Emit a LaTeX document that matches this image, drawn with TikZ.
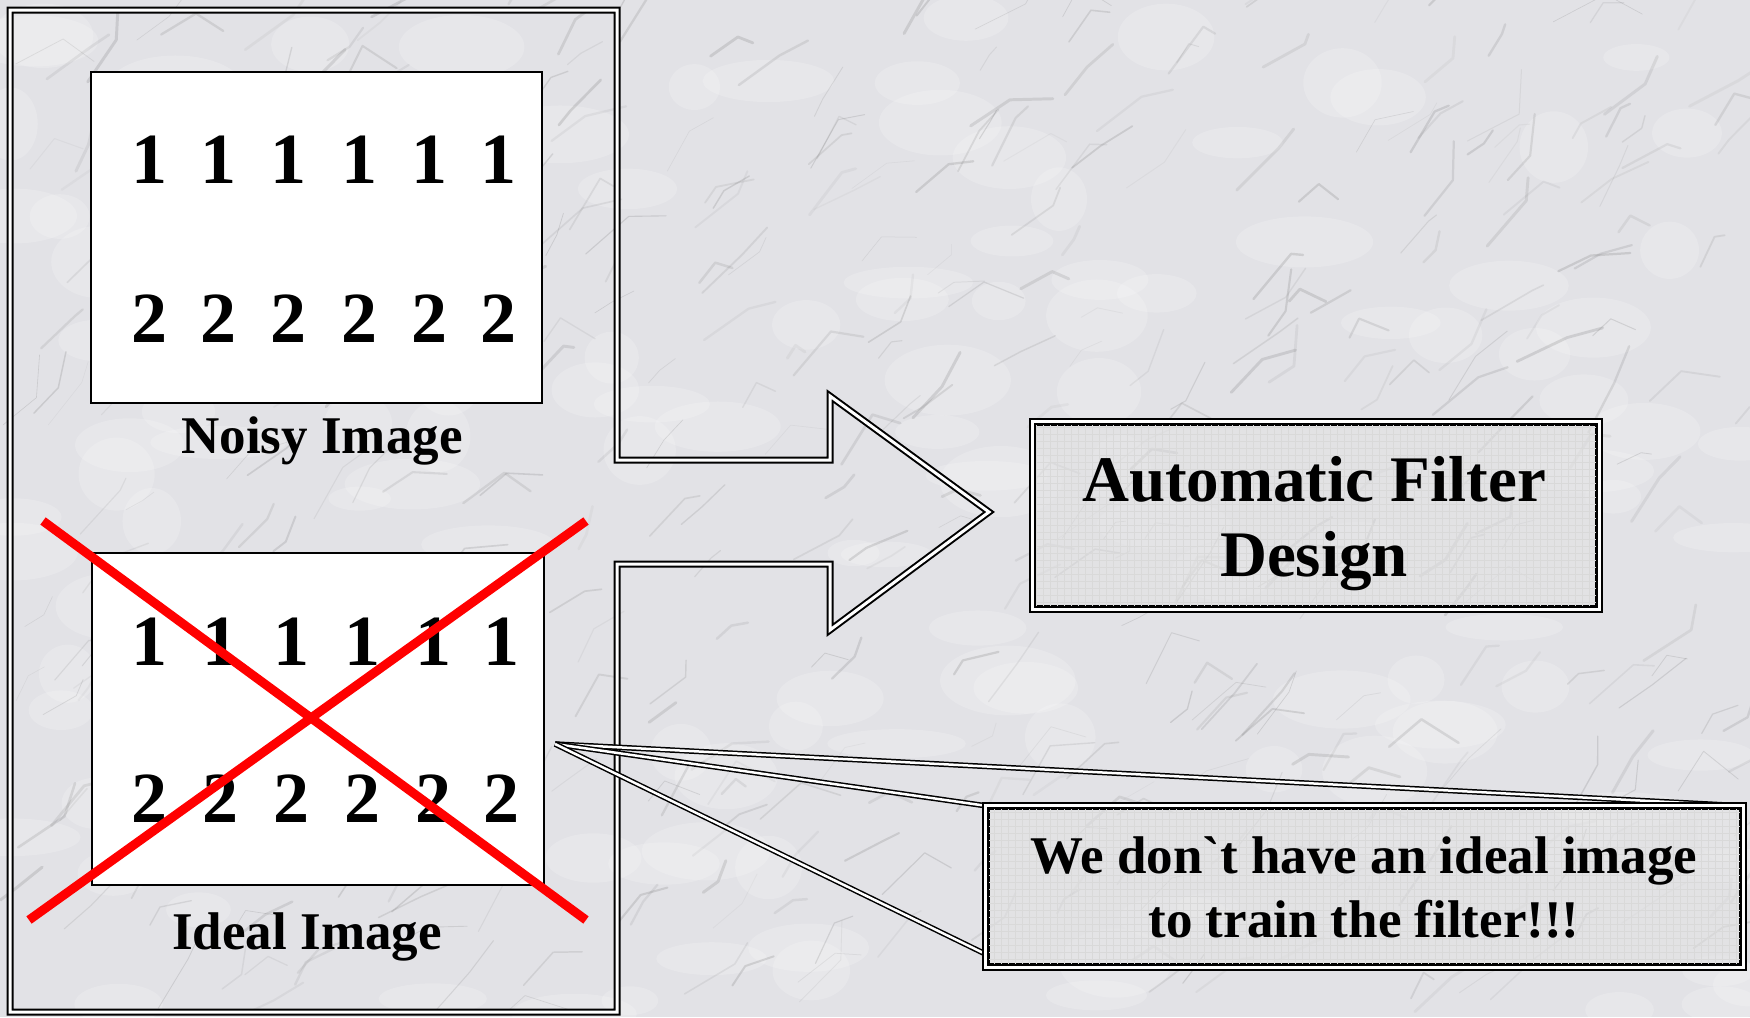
\documentclass[tikz,border=0pt]{standalone}
\usepackage{fontspec}
\setmainfont{Liberation Serif}
\definecolor{marblebase}{HTML}{E2E2E6}
\begin{document}
\begin{tikzpicture}[x=1pt,y=-1pt,
  dbl/.style={draw=black, double=white, line width=2pt, double distance=3pt},
  dblthin/.style={draw=black, double=white, line width=1.5pt, double distance=2.5pt},
  imgbox/.style={draw=black, fill=white, line width=1.5pt, inner sep=0pt, anchor=north west},
  lbl/.style={font=\fontsize{53}{64}\selectfont\bfseries, inner sep=0pt},
  digit/.style={font=\fontsize{72}{80}\selectfont\bfseries, inner sep=0pt, anchor=base},
  cross/.style={draw=red, line width=9pt},
  panel/.style={dbl, fill=gray!22, fill opacity=0.5, inner sep=0pt},
  gridline/.style={draw=gray!30, line width=0.3pt},
  ]
\useasboundingbox (0,0) rectangle (1750,1017);
% marble background
\fill[marblebase] (0,0) rectangle (1750,1017);
\pgfmathsetseed{42}
\foreach \i in {1,...,140}{
  \pgfmathsetmacro{\xA}{rnd*1750}
  \pgfmathsetmacro{\yA}{rnd*1017}
  \pgfmathsetmacro{\rX}{25+rnd*45}
  \pgfmathsetmacro{\rY}{12+rnd*25}
  \fill[white, opacity=0.18] (\xA,\yA) ellipse (\rX pt and \rY pt);
}
\foreach \i in {1,...,420}{
  \pgfmathsetmacro{\xA}{rnd*1750}
  \pgfmathsetmacro{\yA}{rnd*1017}
  \pgfmathsetmacro{\lA}{15+rnd*45}
  \pgfmathsetmacro{\vA}{25+rnd*40}
  \pgfmathsetmacro{\lB}{10+rnd*35}
  \pgfmathsetmacro{\vB}{-40+rnd*130}
  \pgfmathsetmacro{\lW}{0.5+rnd*2.5}
  \pgfmathsetmacro{\oP}{0.06+rnd*0.16}
  \draw[black!55, line width=\lW pt, opacity=\oP, line cap=round, line join=round]
    (\xA,\yA) -- ++(\vA:\lA pt) -- ++(\vB:\lB pt);
}
% frame with block arrow
\draw[dbl] (617,460) -- (830,460) -- (830,396) -- (989,512) -- (830,630)
  -- (830,564) -- (617,564) -- (617,1012) -- (10,1012) -- (10,10) -- (617,10) -- cycle;
% noisy image
\node[imgbox, minimum width=451pt, minimum height=331pt] (noisy) at (90,71) {};
\foreach \x [count=\k] in {149,218,288,359,429,498}{
  \node[digit] (none\k) at (\x,183) {1};
  \node[digit] (ntwo\k) at (\x,342) {2};
}
\node[lbl, anchor=base] (noisylbl) at (322,453) {Noisy Image};
% ideal image
\node[imgbox, minimum width=452pt, minimum height=332pt] (ideal) at (91,552) {};
\foreach \x [count=\k] in {149,220,291,362,433,501}{
  \node[digit] (ione\k) at (\x,665) {1};
  \node[digit] (itwo\k) at (\x,822) {2};
}
\node[lbl, anchor=base] (ideallbl) at (307,949) {Ideal Image};
\coordinate (xa) at (43,521);
\coordinate (xb) at (586,920);
\coordinate (xc) at (586,521);
\coordinate (xd) at (29,920);
\draw[cross] (xa) -- (xb);
\draw[cross] (xc) -- (xd);
% automatic filter design
\node[panel, minimum width=565pt, minimum height=186pt] (afd) at (1315.5,515) {};
\begin{scope}
  \clip (afd.south west) rectangle (afd.north east);
  \draw[gridline, step=7pt] (afd.south west) grid (afd.north east);
\end{scope}
\draw[dbl] (afd.south west) rectangle (afd.north east);
\node[font=\fontsize{65}{75}\selectfont\bfseries, align=center, inner sep=0pt] (afdtext) at (1314,524) {Automatic Filter\\Design};
% callout
\path node[minimum width=756pt, minimum height=160pt, inner sep=0pt] (callarea) at (1364,886) {};
\coordinate (tip) at (555,744);
\draw[dblthin] (tip) -- (callarea.north east);
\draw[dblthin] (tip) -- (callarea.north west);
\draw[dblthin] (tip) -- ([yshift=12pt]callarea.south west);
\node[panel, minimum width=756pt, minimum height=160pt] (callout) at (callarea.center) {};
\begin{scope}
  \clip (callout.south west) rectangle (callout.north east);
  \draw[gridline, step=7pt] (callout.south west) grid (callout.north east);
\end{scope}
\draw[dbl] (callout.south west) rectangle (callout.north east);
\node[lbl, align=center] (calltext) at (1364,887) {We don\textasciigrave t have an ideal image\\to train the filter!!!};
\end{tikzpicture}
\end{document}
